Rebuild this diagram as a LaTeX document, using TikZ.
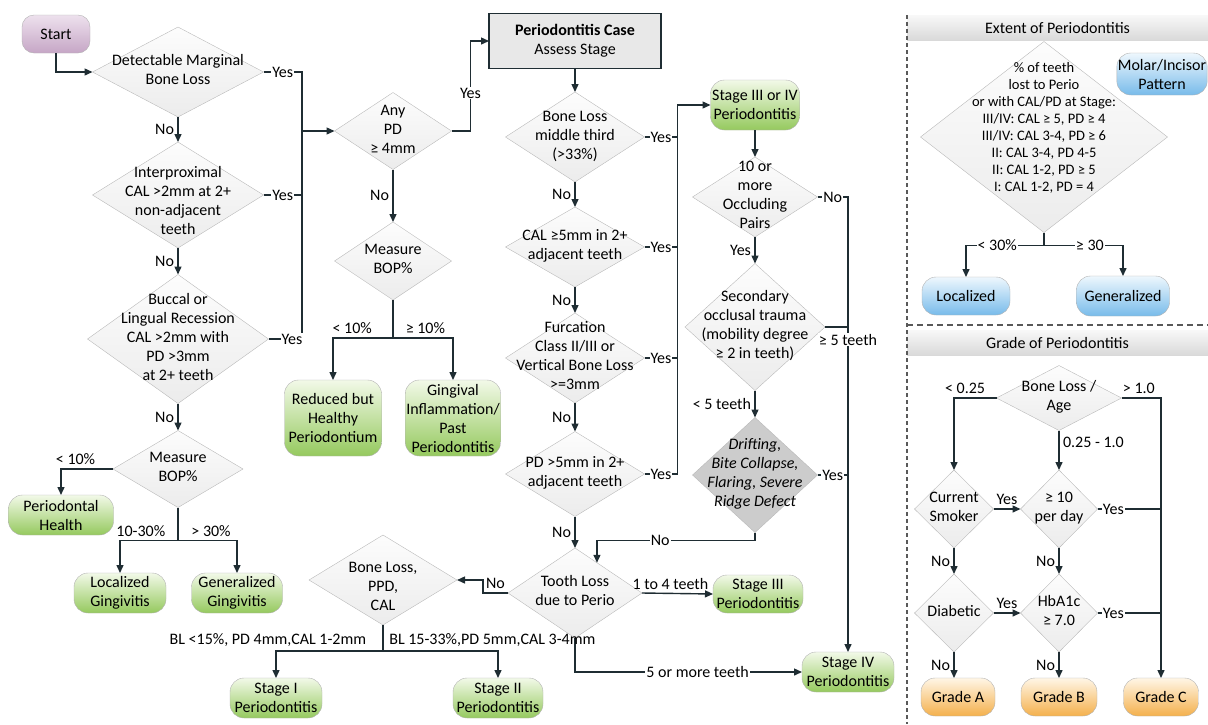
\documentclass[tikz,border=0pt]{standalone}
\usepackage{fontspec}
\setmainfont{Carlito}
\usetikzlibrary{positioning,shapes.geometric,arrows.meta}

\definecolor{lnc}{HTML}{1F2D33}
\definecolor{grtop}{HTML}{F2F9E8}
\definecolor{grbot}{HTML}{95C95E}
\definecolor{bltop}{HTML}{EEF7FD}
\definecolor{blbot}{HTML}{78BBEA}
\definecolor{ortop}{HTML}{FFF6E6}
\definecolor{orbot}{HTML}{F4B04C}
\definecolor{pptop}{HTML}{EDE1ED}
\definecolor{ppbot}{HTML}{C6A6C6}

% text of a diamond, kept out of the shape size
\newcommand{\dtxt}[2][0pt]{\raisebox{\dimexpr-3.7pt-#1\relax}[0pt][0pt]{\makebox[0pt]{\begin{tabular}{@{}c@{}}#2\end{tabular}}}}

\begin{document}
\begin{tikzpicture}[x=1pt, y=-1pt, font=\fontsize{16}{19}\selectfont,
    decision/.style={diamond, draw=gray!55, top color=gray!2, bottom color=gray!15, inner sep=0pt, outer sep=0pt},
    darkdecision/.style={diamond, draw=gray!55, fill=gray!40, inner sep=0pt, outer sep=0pt},
    term/.style={rectangle, rounded corners=14pt, draw=gray!60, top color=grtop, bottom color=grbot, align=center, inner sep=1pt, outer sep=0pt},
    extbox/.style={term, top color=bltop, bottom color=blbot},
    gradebox/.style={term, top color=ortop, bottom color=orbot},
    startbox/.style={term, rounded corners=12pt, top color=pptop, bottom color=ppbot},
    casebox/.style={rectangle, draw=lnc, line width=1.2pt, fill=gray!18, align=center, inner sep=1pt, outer sep=0pt},
    titlebar/.style={rectangle, top color=gray!6, bottom color=gray!30, inner sep=0pt, minimum width=301pt, minimum height=25pt},
    line/.style={draw=lnc, line width=1.4pt},
    arr/.style={line, -{Triangle[length=8pt,width=7pt]}},
    lbl/.style={fill=white, inner sep=1pt}]

\useasboundingbox (0,0) rectangle (1208,724);

% Left column
\node[startbox, minimum width=68pt, minimum height=38pt] (start) at (56,34) {Start};
\node[decision, minimum width=171pt, minimum height=90pt] (detect) at (178,72) {\dtxt{Detectable Marginal\\Bone Loss}};
\node[decision, minimum width=171pt, minimum height=106pt] (interprox) at (178,195) {\dtxt[8pt]{Interproximal\\CAL >2mm at 2+\\non-adjacent\\teeth}};
\node[decision, minimum width=181pt, minimum height=129pt] (buccal) at (178,339) {\dtxt{Buccal or\\Lingual Recession\\CAL >2mm with\\PD >3mm\\at 2+ teeth}};
\node[decision, minimum width=130pt, minimum height=77pt] (bopA) at (178,469) {\dtxt{Measure\\BOP\%}};
\node[term, minimum width=105pt, minimum height=40pt] (health) at (61,515) {Periodontal\\Health};
\node[term, minimum width=92pt, minimum height=40pt] (locgin) at (120,593) {Localized\\Gingivitis};
\node[term, minimum width=91pt, minimum height=40pt] (gengin) at (237,593) {Generalized\\Gingivitis};

% Probing depth branch
\node[decision, minimum width=117pt, minimum height=77pt] (anypd) at (393,131) {\dtxt{Any\\PD\\≥ 4mm}};
\node[decision, minimum width=117pt, minimum height=78pt] (bopB) at (393,261) {\dtxt{Measure\\BOP\%}};
\node[term, minimum width=97pt, minimum height=76pt] (reduced) at (333,418) {Reduced but\\Healthy\\Periodontium};
\node[term, minimum width=94pt, minimum height=76pt] (gingpast) at (453,418) {Gingival\\Inflammation/\\Past\\Periodontitis};

% Staging column
\node[casebox, minimum width=172pt, minimum height=55pt] (case) at (575,41) {\textbf{Periodontitis Case}\\Assess Stage};
\node[decision, minimum width=139pt, minimum height=90pt] (midthird) at (575,137) {\dtxt{Bone Loss\\middle third\\(>33\%)}};
\node[decision, minimum width=139pt, minimum height=80pt] (cal5) at (575,247) {\dtxt{CAL ≥5mm in 2+\\adjacent teeth}};
\node[decision, minimum width=139pt, minimum height=90pt] (furc) at (575,358) {\dtxt{Furcation\\Class II/III or\\Vertical Bone Loss\\>=3mm}};
\node[decision, minimum width=139pt, minimum height=85pt] (pd5) at (575,474) {\dtxt{PD >5mm in 2+\\adjacent teeth}};
\node[decision, minimum width=134pt, minimum height=90pt] (toothloss) at (575,593) {\dtxt{Tooth Loss\\due to Perio}};
\node[decision, minimum width=148pt, minimum height=90pt] (blppd) at (383,580) {\dtxt[8pt]{Bone Loss,\\PPD,\\CAL}};
\node[term, minimum width=92pt, minimum height=40pt] (stageI) at (276,698) {Stage I\\Periodontitis};
\node[term, minimum width=90pt, minimum height=40pt] (stageII) at (498,698) {Stage II\\Periodontitis};
\node[term, minimum width=90pt, minimum height=38pt] (stageIII) at (758,594) {Stage III\\Periodontitis};

% Stage III or IV column
\node[term, minimum width=89pt, minimum height=50pt] (stageIIIIV) at (755,105) {Stage III or IV\\Periodontitis};
\node[decision, minimum width=125pt, minimum height=80pt] (occl) at (755,197) {\dtxt{10 or\\more\\Occluding\\Pairs}};
\node[decision, minimum width=140pt, minimum height=127pt] (trauma) at (755,327) {\dtxt{Secondary\\occlusal trauma\\(mobility degree\\≥ 2 in teeth)}};
\node[darkdecision, minimum width=125pt, minimum height=115pt] (drift) at (755,475) {\dtxt{\textit{Drifting,}\\\textit{Bite Collapse,}\\\textit{Flaring, Severe}\\\textit{Ridge Defect}}};
\node[term, minimum width=92pt, minimum height=40pt] (stageIV) at (848,672) {Stage IV\\Periodontitis};

% Extent panel
\node[titlebar] (exttitle) at (1057.5,28) {Extent of Periodontitis};
\node[decision, minimum width=247pt, minimum height=191pt, font=\fontsize{14.5}{17}\selectfont] (extent) at (1044,137) {\dtxt[-9pt]{\% of teeth\\lost to Perio\\or with CAL/PD at Stage:\\III/IV: CAL ≥ 5, PD ≥ 4\\III/IV: CAL 3-4, PD ≥ 6\\II: CAL 3-4, PD 4-5\\II: CAL 1-2, PD ≥ 5\\I: CAL 1-2, PD = 4}};
\node[extbox, minimum width=90pt, minimum height=42pt] (molar) at (1162,74) {Molar/Incisor\\Pattern};
\node[extbox, minimum width=88pt, minimum height=38pt] (localized) at (966,296) {Localized};
\node[extbox, minimum width=93pt, minimum height=40pt] (generalized) at (1123,296) {Generalized};

% Grade panel
\node[titlebar] (gradetitle) at (1057.5,343) {Grade of Periodontitis};
\node[decision, minimum width=125pt, minimum height=65pt] (blage) at (1059,398) {\dtxt{Bone Loss /\\Age}};
\node[decision, minimum width=79pt, minimum height=78pt] (smoker) at (954,509) {\dtxt{Current\\Smoker}};
\node[decision, minimum width=77pt, minimum height=78pt] (perday) at (1059,509) {\dtxt{≥ 10\\per day}};
\node[decision, minimum width=79pt, minimum height=78pt] (diabetic) at (954,613) {\dtxt{Diabetic}};
\node[decision, minimum width=77pt, minimum height=78pt] (hba1c) at (1059,613) {\dtxt{HbA1c\\≥ 7.0}};
\node[gradebox, minimum width=74pt, minimum height=38pt] (gradeA) at (958,697) {Grade A};
\node[gradebox, minimum width=76pt, minimum height=38pt] (gradeB) at (1059,697) {Grade B};
\node[gradebox, minimum width=75pt, minimum height=38pt] (gradeC) at (1161,697) {Grade C};

% Panel borders
\draw[gray!70!black, line width=1.1pt, dash pattern=on 4pt off 3pt] (907,15) -- (907,724);
\draw[gray!70!black, line width=1.1pt, dash pattern=on 6pt off 4pt] (907,325) -- (1208,325);

% Connections, left column
\coordinate (ybus) at (302,131);
\draw[arr] (start.south) |- (detect.west);
\draw[arr] (detect.south) -- node[left]{No} (interprox.north);
\draw[arr] (interprox.south) -- node[left]{No} (buccal.north);
\draw[arr] (buccal.south) -- node[left]{No} (bopA.north);
\draw[line] (detect.east) -- node[lbl]{Yes} (detect.east -| ybus) -- (buccal.east -| ybus) -- node[lbl, pos=0.3]{Yes} (buccal.east);
\draw[line] (interprox.east) -- node[lbl]{Yes} (interprox.east -| ybus);
\draw[arr] (ybus) -- (anypd.west);
\draw[arr] (bopA.west) -| node[above, pos=0.36]{< 10\%} (health.north);
\draw[line] (bopA.south) -- ++(0,33) coordinate (aj);
\draw[arr] (aj) -| node[above, pos=0.32]{10-30\%} (locgin.north);
\draw[arr] (aj) -| node[above, pos=0.28]{> 30\%} (gengin.north);

% Connections, probing depth
\draw[arr] (anypd.east) -- ++(19,0) |- node[lbl, pos=0.21]{Yes} (case.west);
\draw[arr] (anypd.south) -- node[left]{No} (bopB.north);
\draw[line] (bopB.south) -- ++(0,38) coordinate (bj);
\draw[arr] (bj) -| node[above, pos=0.34]{< 10\%} (reduced.north);
\draw[arr] (bj) -| node[above, pos=0.27]{≥ 10\%} (gingpast.north);

% Connections, staging
\draw[arr] (case.south) -- (midthird.north);
\draw[arr] (midthird.south) -- node[left]{No} (cal5.north);
\draw[arr] (cal5.south) -- node[left]{No} (furc.north);
\draw[arr] (furc.south) -- node[left]{No} (pd5.north);
\draw[arr] (pd5.south) -- node[left]{No} (toothloss.north);
\draw[arr] (pd5.east) -- node[lbl]{Yes} ++(33,0) |- (stageIIIIV.west);
\draw[line] (midthird.east) -- node[lbl]{Yes} ++(33,0);
\draw[line] (cal5.east) -- node[lbl]{Yes} ++(33,0);
\draw[line] (furc.east) -- node[lbl]{Yes} ++(33,0);
\draw[arr] (toothloss.east) -- node[above, pos=0.4]{1 to 4 teeth} (stageIII.west);
\draw[arr] (toothloss.south) |- node[lbl, pos=0.77]{5 or more teeth} (stageIV.west);
\draw[arr] (toothloss.west) -- node[above]{No} ++(-25,0) |- (blppd.east);
\draw[line] (blppd.south) -- ++(0,26) coordinate (bpj);
\draw[arr] (bpj) -| node[above left, pos=0.06]{BL <15\%, PD 4mm,CAL 1-2mm} (stageI.north);
\draw[arr] (bpj) -| node[above right, pos=0.01]{BL 15-33\%,PD 5mm,CAL 3-4mm} (stageII.north);

% Connections, stage III or IV
\draw[arr] (stageIIIIV.south) -- (occl.north);
\draw[arr] (occl.south) -- node[left]{Yes} (trauma.north);
\draw[arr] (trauma.south) -- node[left]{< 5 teeth} (drift.north);
\draw[arr] (occl.east) -- node[lbl]{No} (occl.east -| stageIV.north) -- node[lbl, pos=0.314]{≥ 5 teeth} (stageIV.north);
\draw[line] (trauma.east) -- (trauma.east -| stageIV.north);
\draw[line] (drift.east) -- node[lbl]{Yes} (drift.east -| stageIV.north);
\draw[arr] (drift.south) -- ++(0,8) -| node[lbl, pos=0.3]{No} (toothloss.54);

% Connections, extent
\draw[line] (extent.south) -- ++(0,13) coordinate (ej);
\draw[arr] (ej) -| node[lbl, pos=0.3]{< 30\%} (localized.north);
\draw[arr] (ej) -| node[lbl, pos=0.29]{≥ 30} (generalized.north);

% Connections, grade
\draw[arr] (blage.west) -| node[above, pos=0.37]{< 0.25} (smoker.north);
\draw[arr] (blage.east) -| node[above, pos=0.22]{> 1.0} (gradeC.north);
\draw[arr] (blage.south) -- node[right, pos=0.3]{0.25 - 1.0} (perday.north);
\draw[arr] (smoker.east) -- node[above]{Yes} (perday.west);
\draw[line] (perday.east) -- node[lbl, pos=0.25]{Yes} (perday.east -| gradeC.north);
\draw[arr] (smoker.south) -- node[left]{No} (diabetic.north);
\draw[arr] (perday.south) -- node[left]{No} (hba1c.north);
\draw[arr] (diabetic.east) -- node[above]{Yes} (hba1c.west);
\draw[line] (hba1c.east) -- node[lbl, pos=0.25]{Yes} (hba1c.east -| gradeC.north);
\draw[arr] (diabetic.south) -- node[left]{No} (diabetic.south |- gradeA.north);
\draw[arr] (hba1c.south) -- node[left]{No} (gradeB.north);

\end{tikzpicture}
\end{document}
